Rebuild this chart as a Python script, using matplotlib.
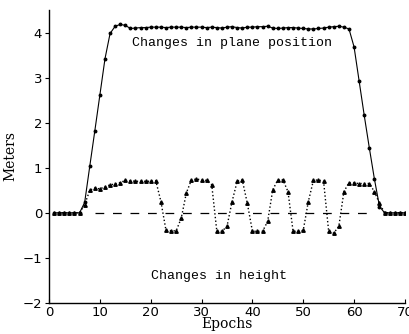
import numpy as np
import matplotlib
matplotlib.use("Agg")
import matplotlib.pyplot as plt

# epochs 1..70
epochs = np.arange(1, 71)

# horizontal (plane) position change, meters
plane = [0.0, 0.0, 0.0, 0.0, 0.0, 0.0, 0.23, 1.03, 1.82, 2.62,
         3.42, 3.98, 4.14, 4.18, 4.16, 4.09, 4.10, 4.11, 4.11, 4.12,
         4.12, 4.12, 4.11, 4.12, 4.12, 4.12, 4.11, 4.12, 4.12, 4.12,
         4.11, 4.12, 4.11, 4.10, 4.12, 4.13, 4.11, 4.10, 4.12, 4.12,
         4.13, 4.13, 4.14, 4.10, 4.09, 4.10, 4.11, 4.11, 4.10, 4.09,
         4.08, 4.08, 4.09, 4.10, 4.12, 4.13, 4.14, 4.12, 4.08, 3.68,
         2.92, 2.16, 1.44, 0.75, 0.14, 0.0, 0.0, 0.0, 0.0, 0.0]

# height change, meters
height = [0.0, 0.0, 0.0, 0.0, 0.0, 0.0, 0.18, 0.50, 0.55, 0.53,
          0.58, 0.62, 0.64, 0.67, 0.72, 0.71, 0.70, 0.70, 0.70, 0.70,
          0.71, 0.25, -0.39, -0.40, -0.40, -0.12, 0.44, 0.73, 0.75, 0.73,
          0.72, 0.62, -0.41, -0.41, -0.30, 0.25, 0.70, 0.73, 0.21, -0.41,
          -0.41, -0.41, -0.19, 0.51, 0.73, 0.73, 0.47, -0.41, -0.41, -0.39,
          0.25, 0.72, 0.73, 0.70, -0.41, -0.45, -0.30, 0.47, 0.67, 0.66,
          0.65, 0.65, 0.65, 0.47, 0.21, 0.0, 0.0, 0.0, 0.0, 0.0]

# reference zero line span
zero_span = [9, 63]

fig = plt.figure(figsize=(4.09, 3.34), dpi=100)
ax = fig.add_axes([0.12, 0.093, 0.87, 0.877])

ax.plot(epochs, plane, color="black", lw=0.8, marker="o", ms=1.8)
ax.plot(epochs, height, color="black", lw=1.0, ls=":", marker="^", ms=2.5)
ax.plot(zero_span, [0, 0], color="black", lw=0.9, dashes=(7, 7))

ax.text(36, 3.77, "Changes in plane position", family="Liberation Mono",
        fontsize=9.5, ha="center", va="center")
ax.text(33.5, -1.4, "Changes in height", family="Liberation Mono",
        fontsize=9.5, ha="center", va="center")

ax.set_xlim(0, 70)
ax.set_ylim(-2, 4.5)
ax.set_xticks([0, 10, 20, 30, 40, 50, 60, 70])
ax.set_yticks([-2, -1, 0, 1, 2, 3, 4])
ax.set_yticklabels(["\u22122", "\u22121", "0", "1", "2", "3", "4"])
ax.tick_params(axis="y", direction="out", length=3, labelsize=9.5, pad=2)
ax.tick_params(axis="x", direction="in", length=3, labelsize=9.5, pad=2)
ax.set_xlabel("Epochs", family="DejaVu Serif", fontsize=10, labelpad=-1)
ax.set_ylabel("Meters", family="DejaVu Serif", fontsize=10, labelpad=4)

for s in ["top", "right"]:
    ax.spines[s].set_visible(False)
ax.spines["left"].set_linewidth(1.0)
ax.spines["bottom"].set_linewidth(1.0)

fig.savefig("out.png", dpi=100)
